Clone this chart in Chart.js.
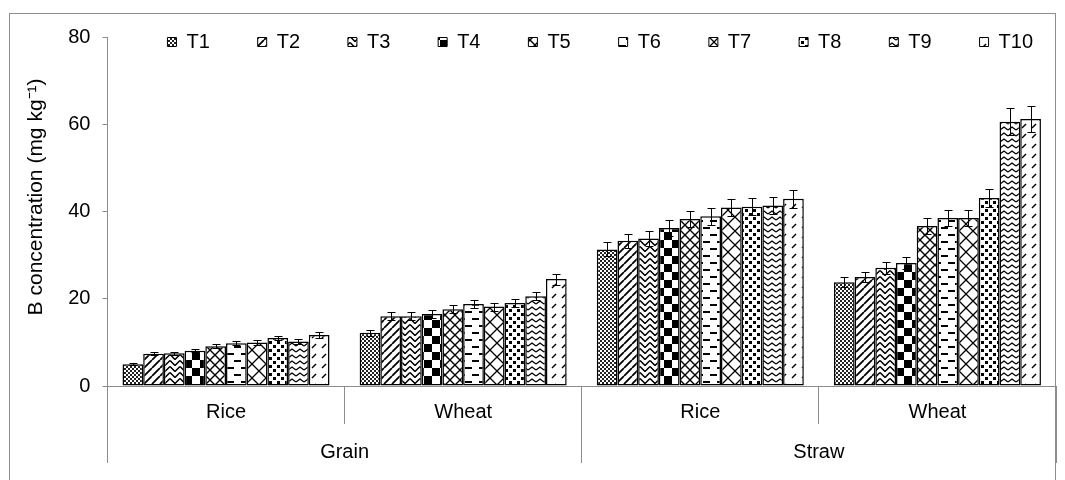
<!DOCTYPE html>
<html><head><meta charset="utf-8">
<script src="https://cdn.jsdelivr.net/npm/chart.js@4.4.1/dist/chart.umd.min.js"></script>
<style>
html,body{margin:0;padding:0;background:#fff;}
#wrap{position:relative;width:1065px;height:480px;overflow:hidden;background:#fff;}
#frame{position:absolute;left:9px;top:13px;width:1047px;height:520px;border:1px solid #8c8c8c;box-sizing:border-box;}
canvas{position:absolute;left:0;top:0;}
</style></head><body>
<div id="wrap"><div id="frame"></div><canvas id="c" width="1065" height="480"></canvas></div>
<script>
// ---- data ----
const categories = ['Rice', 'Wheat', 'Rice', 'Wheat'];
const groups = ['Grain', 'Straw'];
const seriesNames = ['T1','T2','T3','T4','T5','T6','T7','T8','T9','T10'];
const yTitle = 'B concentration (mg kg\u207B\u00B9)';

const T1  = [5.0, 12.2, 31.3, 23.8];
const T2  = [7.4, 16.0, 33.3, 25.0];
const T3  = [7.5, 16.0, 33.8, 27.1];
const T4  = [8.1, 16.5, 36.2, 28.2];
const T5  = [9.1, 17.6, 38.3, 36.7];
const T6  = [9.8, 18.8, 38.9, 38.5];
const T7  = [10.0, 18.2, 40.9, 38.5];
const T8  = [11.0, 19.0, 41.1, 43.1];
const T9  = [10.2, 20.6, 41.4, 60.6];
const T10 = [11.7, 24.5, 42.9, 61.2];

const T1err  = [0.3, 0.7, 1.6, 1.15];
const T2err  = [0.3, 0.9, 1.6, 1.2];
const T3err  = [0.4, 0.9, 1.7, 1.4];
const T4err  = [0.4, 0.9, 1.8, 1.4];
const T5err  = [0.5, 0.9, 1.8, 1.8];
const T6err  = [0.5, 0.9, 1.9, 1.9];
const T7err  = [0.5, 0.9, 2.0, 1.9];
const T8err  = [0.55, 0.95, 2.0, 2.05];
const T9err  = [0.5, 0.95, 2.0, 3.05];
const T10err = [0.6, 1.25, 2.1, 3.0];

const seriesValues = [T1,T2,T3,T4,T5,T6,T7,T8,T9,T10];
const seriesErrors = [T1err,T2err,T3err,T4err,T5err,T6err,T7err,T8err,T9err,T10err];

// ---- patterns (styles) ----
const mainCtx = document.getElementById('c').getContext('2d');
function pat(w, h, draw) {
  const c = document.createElement('canvas'); c.width = w; c.height = h;
  const g = c.getContext('2d');
  g.fillStyle = '#fff'; g.fillRect(0, 0, w, h);
  g.fillStyle = '#000'; g.strokeStyle = '#000';
  draw(g, w, h);
  return mainCtx.createPattern(c, 'repeat');
}
const patterns = [
  pat(4, 4, g => { g.fillStyle = '#222'; g.fillRect(0,0,2,2); g.fillRect(2,2,2,2); }),
  pat(8, 8, g => { g.lineWidth = 1.8; g.beginPath(); for (let k=-1;k<=1;k++){ g.moveTo(k*8,8); g.lineTo(k*8+8,0);} g.stroke(); }),
  pat(10, 6, g => { g.lineWidth = 1.5; g.beginPath(); g.moveTo(0,0.5); g.lineTo(5,5.5); g.lineTo(10,0.5); g.stroke(); }),
  pat(16, 16, g => { g.fillRect(0,0,8,8); g.fillRect(8,8,8,8); }),
  pat(10, 10, g => { g.lineWidth = 1.4; g.beginPath(); g.moveTo(0,0); g.lineTo(10,10); g.moveTo(10,0); g.lineTo(0,10); g.stroke(); }),
  pat(14, 14, g => { g.fillRect(3,3,7,2); g.fillRect(10,10,4,2); g.fillRect(0,10,3,2); }),
  pat(14, 14, g => { g.lineWidth = 1.3; g.beginPath(); g.moveTo(0,0); g.lineTo(14,14); g.moveTo(14,0); g.lineTo(0,14); g.stroke(); }),
  pat(8, 8, g => { g.fillRect(1,1,3,3); g.fillRect(5,5,3,3); }),
  pat(8, 6, g => { g.lineWidth = 1.4; g.beginPath(); g.moveTo(0,4); g.lineTo(4,1); g.lineTo(8,4); g.stroke(); }),
  pat(10, 10, g => { g.lineWidth = 1.5; g.beginPath(); g.moveTo(2,8); g.lineTo(6,4); g.stroke(); })
];

// ---- plugins ----
const errorBars = {
  id: 'errorBars',
  afterDatasetsDraw(chart) {
    const ctx = chart.ctx, ys = chart.scales.y;
    ctx.save(); ctx.strokeStyle = '#000'; ctx.lineWidth = 1;
    chart.data.datasets.forEach((ds, i) => {
      const meta = chart.getDatasetMeta(i);
      meta.data.forEach((bar, j) => {
        const v = ds.data[j], e = ds.errors[j];
        const t = Math.round(ys.getPixelForValue(v + e)) + 0.5;
        const b = Math.round(ys.getPixelForValue(v - e)) + 0.5;
        const x = Math.round(bar.x) + 0.5;
        ctx.beginPath();
        ctx.moveTo(x, t); ctx.lineTo(x, b);
        ctx.moveTo(x - 4, t); ctx.lineTo(x + 4, t);
        ctx.moveTo(x - 4, b); ctx.lineTo(x + 4, b);
        ctx.stroke();
      });
    });
    ctx.restore();
  }
};
const legendPlace = {
  id: 'legendPlace',
  afterLayout(chart) {
    const lg = chart.legend, a = chart.chartArea;
    if (!lg) return;
    const w = lg.right - lg.left, h = lg.bottom - lg.top;
    lg.left = a.left + 51; lg.right = lg.left + w + 60;
    lg.top = a.top - 14; lg.bottom = lg.top + h;
  }
};

Chart.defaults.font.family = "'Liberation Sans', Arial, sans-serif";
Chart.defaults.font.size = 20;
Chart.defaults.color = '#000';

const datasets = seriesNames.map((name, i) => ({
  label: name,
  data: seriesValues[i],
  errors: seriesErrors[i],
  backgroundColor: patterns[i],
  borderColor: '#000',
  borderWidth: 1.5,
  borderSkipped: false,
  categoryPercentage: 0.873,
  barPercentage: 1.0
}));

new Chart(document.getElementById('c'), {
  type: 'bar',
  data: { labels: categories, datasets },
  plugins: [errorBars, legendPlace],
  options: {
    responsive: false,
    animation: false,
    layout: { padding: { left: 10, right: 9, top: -2, bottom: 15 } },
    plugins: {
      tooltip: { enabled: false },
      legend: {
        position: 'top',
        align: 'start',
        labels: {
          boxWidth: 9, boxHeight: 9, padding: 9, color: '#000',
          font: { size: 20 },
          generateLabels(chart) {
            const items = Chart.defaults.plugins.legend.labels.generateLabels(chart);
            items.forEach((it, i) => {
              it.text = it.text + (i < items.length - 1 ? '\u00a0'.repeat(7) : '');
              it.lineWidth = 1;
            });
            return items;
          }
        }
      }
    },
    scales: {
      y: {
        min: 0, max: 80,
        ticks: { stepSize: 20, padding: 12, font: { size: 20 }, color: '#000' },
        grid: { drawOnChartArea: false, tickLength: 5, color: '#8c8c8c' },
        border: { color: '#8c8c8c' },
        title: { display: true, text: '\u00a0'.repeat(5) + yTitle, font: { size: 21 }, color: '#000', padding: { top: 14, bottom: 7 } }
      },
      x: {
        type: 'category',
        offset: true,
        ticks: { mirror: true, padding: -38, font: { size: 20 }, color: '#000' },
        grid: { offset: true, drawOnChartArea: false, tickLength: 38, color: '#8c8c8c' },
        border: { color: '#8c8c8c' },
        afterFit(scale) { scale.height = 38; }
      },
      x2: {
        type: 'category',
        position: 'bottom',
        labels: groups,
        offset: true,
        ticks: { mirror: true, padding: -40, font: { size: 20 }, color: '#000' },
        grid: { offset: true, drawOnChartArea: false, tickLength: 39, color: '#8c8c8c' },
        border: { display: false },
        afterFit(scale) { scale.height = 41; }
      }
    }
  }
});
</script>
</body></html>
